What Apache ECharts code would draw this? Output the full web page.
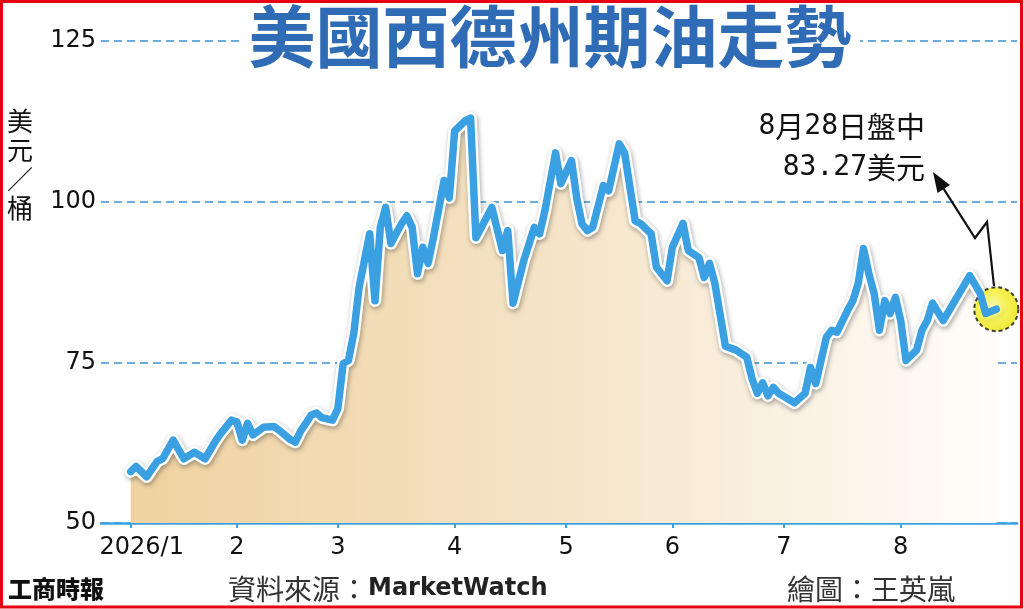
<!DOCTYPE html>
<html><head><meta charset="utf-8">
<script src="https://cdn.jsdelivr.net/npm/echarts@6/dist/echarts.min.js"></script>
<style>html,body{margin:0;padding:0;background:#fff}#c{width:1024px;height:609px}</style>
</head><body><div id="c"></div>
<script>
// trading-day index counted from 2026-01-02 (first trading day of 2026)
const tradingDay = [0,1,3,5,6,8,10,12,14,16,17,19,20,21,22,23,25,27,28,30,31,32,34,35,36,38,39,40,41,42,43,45,46,47,48,49,51,52,53,54,55,56,57,59,60,61,63,64,65,68,70,71,72,74,76,77,78,80,81,83,84,85,86,87,89,90,92,93,95,96,98,99,101,102,104,105,107,108,109,110,112,114,116,117,118,119,120,121,122,125,127,128,129,131,132,133,135,136,137,138,139,140,141,142,143,144,145,146,148,149,150,151,153,155,156,158,160,161,163];
const price = [58.0,58.8,57.2,59.6,60.0,62.9,60.0,61.0,60.0,62.8,64.0,66.0,65.7,62.9,65.5,63.7,64.9,65.0,64.4,63.0,62.6,64.3,66.8,67.1,66.4,66.0,67.8,74.8,75.3,79.5,86.6,95.0,84.6,96.0,99.1,93.5,96.6,97.8,96.0,88.8,92.9,90.4,94.4,103.3,100.6,111.0,112.6,113.0,94.4,99.1,92.4,95.5,84.2,90.8,96.0,95.0,98.6,107.6,102.8,106.4,100.5,96.5,95.5,96.0,102.5,101.7,109.0,107.6,97.0,96.6,95.0,89.8,87.7,92.9,96.6,92.4,91.3,88.2,90.4,87.3,77.5,76.9,75.8,72.5,70.2,71.8,69.8,71.1,70.2,68.7,70.2,74.2,71.7,78.9,80.0,79.7,83.1,84.6,87.3,92.7,88.8,85.7,80.0,84.6,82.6,85.1,81.5,75.3,76.9,80.0,81.5,84.2,81.5,84.3,85.7,88.5,85.7,82.6,83.27];
const monthStartDay = [0,20,39,61,82,102,123,145];
const monthLabels = ['2026/1','2','3','4','5','6','7','8'];
const yMin = 50, yMax = 125, yStep = 25;
const titleText = '美國西德州期油走勢';
const unitText = '美元／桶';
const noteValue = '83.27';

const seriesData = tradingDay.map((d, i) => [d, price[i]]);
const lastPoint = seriesData[seriesData.length - 1];

const chart = echarts.init(document.getElementById('c'), null, {renderer: 'canvas'});
const BLUE = '#3aa0e2';
const CJK = '"Noto Sans CJK TC", "Noto Sans CJK SC", sans-serif';

chart.setOption({
  animation: false,
  backgroundColor: '#fff',
  grid: {left: 101, right: 7, top: 41, bottom: 86, containLabel: false},
  xAxis: {
    type: 'value', min: -5.6, max: 166.9,
    splitLine: {show: false},
    axisLine: {show: true, onZero: false, lineStyle: {color: BLUE, width: 2.5}},
    axisTick: {show: true, customValues: monthStartDay, length: 5, lineStyle: {color: BLUE, width: 2}},
    axisLabel: {
      customValues: monthStartDay, margin: 13,
      fontFamily: 'DejaVu Sans', fontSize: 24, color: '#111',
      formatter: v => {
        const i = monthStartDay.indexOf(Math.round(v));
        if (i === 0) return '{f|' + monthLabels[0] + '}';
        return i >= 0 ? monthLabels[i] : '';
      },
      rich: {f: {fontFamily: 'DejaVu Sans', fontSize: 24, color: '#111', padding: [0, 0, 0, 22]}}
    }
  },
  yAxis: {
    type: 'value', min: yMin, max: yMax, interval: yStep,
    axisLine: {show: false}, axisTick: {show: false},
    axisLabel: {margin: 5, fontFamily: 'DejaVu Sans', fontSize: 24, color: '#111'},
    splitLine: {show: true, lineStyle: {color: '#3c92d2', width: 1.5, type: [8, 5]}}
  },
  series: [
    {
      type: 'line', data: seriesData, symbol: 'none', z: 1, silent: true,
      lineStyle: {color: '#ffffff', width: 12.5, join: 'round', cap: 'round',
        shadowColor: 'rgba(0,0,0,0.35)', shadowBlur: 5, shadowOffsetX: 1, shadowOffsetY: 2},
      areaStyle: {
        opacity: 1,
        color: new echarts.graphic.LinearGradient(0, 0, 1, 0, [
          {offset: 0, color: '#efd2a0'},
          {offset: 0.5, color: '#f5e4c8'},
          {offset: 1, color: '#fffdfa'}
        ])
      }
    },
    {
      type: 'scatter', data: [lastPoint], z: 2, silent: true,
      symbol: 'circle', symbolSize: 44,
      itemStyle: {
        color: new echarts.graphic.RadialGradient(0.4, 0.45, 0.6, [
          {offset: 0, color: '#fbf7a0'},
          {offset: 0.55, color: '#f4ee2a'},
          {offset: 1, color: '#e9e200'}
        ]),
        borderColor: '#111', borderWidth: 2, borderType: [4, 3]
      }
    },
    {
      type: 'line', data: seriesData, symbol: 'none', z: 3, silent: true,
      lineStyle: {color: BLUE, width: 7.5, join: 'round', cap: 'round'}
    }
  ],
  graphic: [
    {type: 'rect', z: 50, shape: {x: 240, y: 4, width: 620, height: 70}, style: {fill: '#fff'}},
    {type: 'text', z: 51, style: {text: titleText, x: 550, y: 37, align: 'center', verticalAlign: 'middle',
      fontFamily: CJK, fontSize: 67, fontWeight: 'bold', fill: '#2f6cb5'}},
    {type: 'text', z: 51, style: {text: unitText.split('').join('\n'), x: 20, y: 107, align: 'center', verticalAlign: 'top',
      fontFamily: CJK, fontSize: 26, lineHeight: 29, fill: '#111'}},
    {type: 'text', z: 51, style: {
      text: '{d|8}{c|月}{d|28}{c|日盤中}', x: 925, y: 127, align: 'right', verticalAlign: 'middle',
      rich: {d: {fontFamily: 'DejaVu Sans Mono', fontSize: 28, fill: '#111', color: '#111'},
             c: {fontFamily: CJK, fontSize: 29, fill: '#111', color: '#111'}}}},
    {type: 'text', z: 51, style: {
      text: '{d|' + noteValue + '}{c|美元}', x: 925, y: 168, align: 'right', verticalAlign: 'middle',
      rich: {d: {fontFamily: 'DejaVu Sans Mono', fontSize: 28, fill: '#111', color: '#111'},
             c: {fontFamily: CJK, fontSize: 29, fill: '#111', color: '#111'}}}},
    {type: 'polyline', z: 51, shape: {points: [[994, 286], [987, 222], [975, 238], [943.7, 188.9]]},
      style: {stroke: '#111', lineWidth: 2.2, fill: null}},
    {type: 'polygon', z: 51, shape: {points: [[933, 172], [950, 185], [937.5, 193]]}, style: {fill: '#111'}},
    {type: 'text', z: 51, style: {text: '工商時報', x: 8, y: 589, verticalAlign: 'middle',
      fontFamily: CJK, fontSize: 24, fontWeight: 900, fill: '#111'}},
    {type: 'text', z: 51, style: {
      text: '{a|資料來源：}{b|MarketWatch}', x: 228, y: 589, verticalAlign: 'middle',
      rich: {a: {fontFamily: CJK, fontSize: 28, color: '#333', fill: '#333'},
             b: {fontFamily: 'DejaVu Sans', fontWeight: 'bold', fontSize: 24, color: '#222', fill: '#222'}}}},
    {type: 'text', z: 51, style: {text: '繪圖：王英嵐', x: 787, y: 589, verticalAlign: 'middle',
      fontFamily: CJK, fontSize: 28, fill: '#333'}},
    {type: 'rect', z: 60, shape: {x: 1.5, y: 1.5, width: 1020, height: 605.5},
      style: {fill: null, stroke: '#e60012', lineWidth: 3}}
  ]
});
</script></body></html>
